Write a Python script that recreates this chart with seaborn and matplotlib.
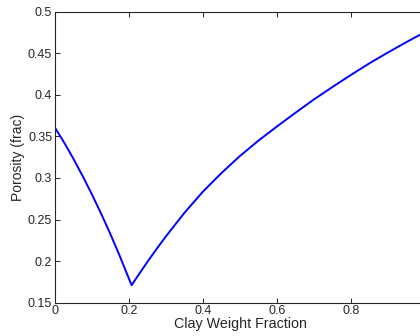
import matplotlib
matplotlib.use("Agg")
import matplotlib.pyplot as plt
import seaborn as sns
import pandas as pd

clay_weight_fraction = [0.0, 0.025, 0.05, 0.075, 0.10, 0.125, 0.15, 0.175, 0.207,
                        0.225, 0.25, 0.275, 0.30, 0.35, 0.40, 0.45, 0.50, 0.55, 0.60,
                        0.65, 0.70, 0.75, 0.80, 0.85, 0.90, 0.95, 1.0]
porosity = [0.3605, 0.3424, 0.3229, 0.3021, 0.2801, 0.2568, 0.2322, 0.2062, 0.171,
            0.183, 0.1993, 0.2149, 0.2299, 0.2582, 0.2837, 0.306, 0.3265, 0.345, 0.362,
            0.3785, 0.3945, 0.4095, 0.424, 0.438, 0.451, 0.4635, 0.4755]
x_ticks = [0, 0.2, 0.4, 0.6, 0.8]
y_ticks = [0.15, 0.2, 0.25, 0.3, 0.35, 0.4, 0.45, 0.5]

df = pd.DataFrame({"x": clay_weight_fraction, "y": porosity})

sns.set_style("ticks")
plt.rcParams["font.family"] = ["Liberation Sans", "DejaVu Sans"]

fig = plt.figure(figsize=(4.2, 3.36), dpi=100)
ax = fig.add_axes([55/420, 1 - 302.7/336, 370/420, (302.7 - 11.7)/336])

sns.lineplot(data=df, x="x", y="y", ax=ax, color="#0000ff", lw=1.4, sort=False)

ax.set_xlim(0, 1)
ax.set_ylim(0.15, 0.5)
ax.set_xticks(x_ticks)
ax.set_xticklabels([f"{t:g}" for t in x_ticks])
ax.set_yticks(y_ticks)
ax.set_yticklabels([f"{t:g}" for t in y_ticks])
ax.tick_params(direction="in", length=3.5, width=0.7, colors="#262626",
               labelsize=9, top=True, right=True, pad=2)
for s in ax.spines.values():
    s.set_color("#262626")
    s.set_linewidth(0.8)
    s.set_visible(True)

ax.set_xlabel("Clay Weight Fraction", fontsize=10.3, color="#262626", labelpad=0)
ax.set_ylabel("Porosity (frac)", fontsize=10, color="#262626", labelpad=2)

fig.savefig("out.png", dpi=100)
